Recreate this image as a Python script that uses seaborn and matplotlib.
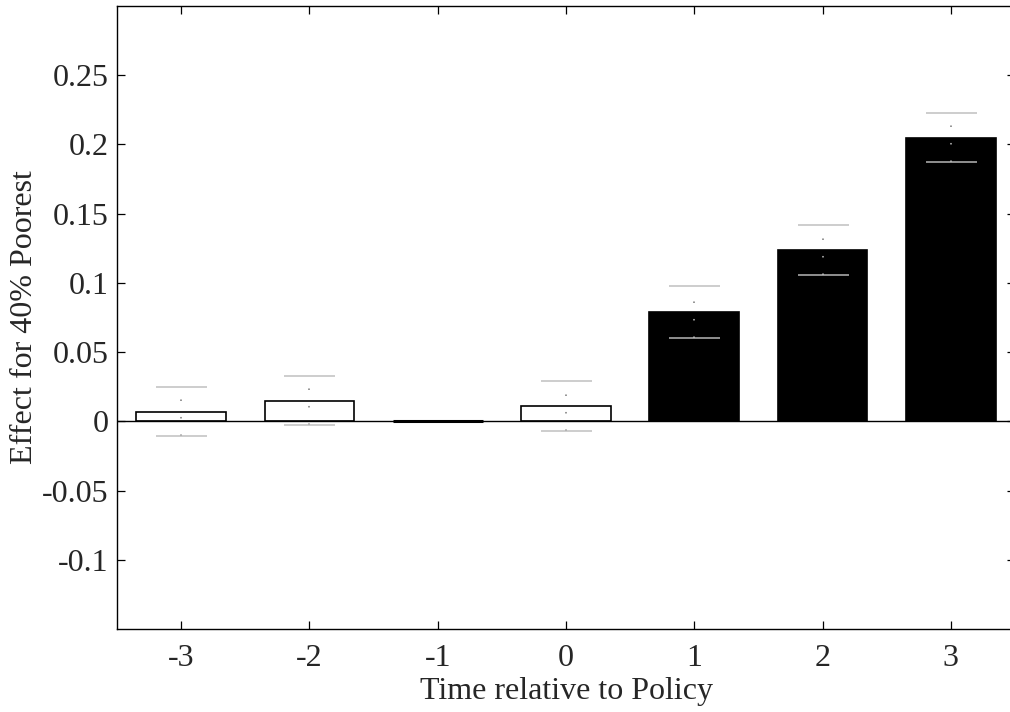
import numpy as np
import pandas as pd
import matplotlib
matplotlib.use("Agg")
import matplotlib.pyplot as plt
import seaborn as sns

# Event-time estimates for the 40% poorest
periods = [-3, -2, -1, 0, 1, 2, 3]
effects = [0.007, 0.015, 0.0, 0.011, 0.079, 0.1237, 0.205]
ci_half = [0.0177, 0.0175, np.nan, 0.0178, 0.0189, 0.018, 0.018]
phase = ["pre", "pre", "post", "pre", "post", "post", "post"]

ytick_vals = [-0.1, -0.05, 0, 0.05, 0.1, 0.15, 0.2, 0.25]
ytick_labels = ["-0.1", "-0.05", "0", "0.05", "0.1", "0.15", "0.2", "0.25"]
xtick_labels = ["-3", "-2", "-1", "0", "1", "2", "3"]

df = pd.DataFrame({"period": periods, "effect": effects, "phase": phase})

sns.set_theme(style="ticks")
plt.rcParams["font.family"] = ["Liberation Serif", "DejaVu Serif"]
plt.rcParams["font.size"] = 23

fig = plt.figure(figsize=(10.10, 7.12), dpi=100)
ax = fig.add_axes([117 / 1010, 1 - 629 / 712, (1015 - 117) / 1010, (629 - 6) / 712])

sns.barplot(
    data=df, x="period", y="effect", hue="phase",
    palette={"pre": "white", "post": "black"},
    native_scale=True, dodge=False, width=0.7,
    edgecolor="black", linewidth=1.2, legend=False, ax=ax,
)
# the reference period (value 0) shows as a heavy flat bar
for p in ax.patches:
    if abs(p.get_height()) < 1e-12:
        p.set_linewidth(2.2)

ax.axhline(0, color="black", lw=1.0, zorder=1.5)

# Confidence intervals: dotted stems with grey caps
eb = ax.errorbar(
    periods, effects, yerr=ci_half, fmt="none",
    ecolor=(189 / 255, 189 / 255, 189 / 255, 0.76),
    elinewidth=1.4, capsize=25.5 * 0.72, capthick=1.4, zorder=3,
)
for coll in eb[2]:
    coll.set_linestyle((0, (0.8, 8.2)))
    coll.set_color((150 / 255, 150 / 255, 150 / 255, 1.0))

ax.set_xlim(-3.5, 3.5)
ax.set_ylim(-0.15, 0.30)
ax.set_xticks(periods)
ax.set_xticklabels(xtick_labels)
ax.set_yticks(ytick_vals)
ax.set_yticklabels(ytick_labels)

ax.tick_params(direction="in", length=8 * 0.72, width=0.9, top=True, right=True,
               labelsize=23, color="black")
ax.tick_params(axis="y", pad=6)
ax.tick_params(axis="x", pad=11)
for s in ax.spines.values():
    s.set_visible(True)
    s.set_linewidth(1.0)
    s.set_color("black")
ax.spines["right"].set_visible(False)

ax.set_xlabel("Time relative to Policy", fontsize=23, labelpad=3)
ax.set_ylabel("Effect for 40% Poorest", fontsize=23, labelpad=2)
ax.set_facecolor("white")

fig.savefig("out.png", dpi=100)
